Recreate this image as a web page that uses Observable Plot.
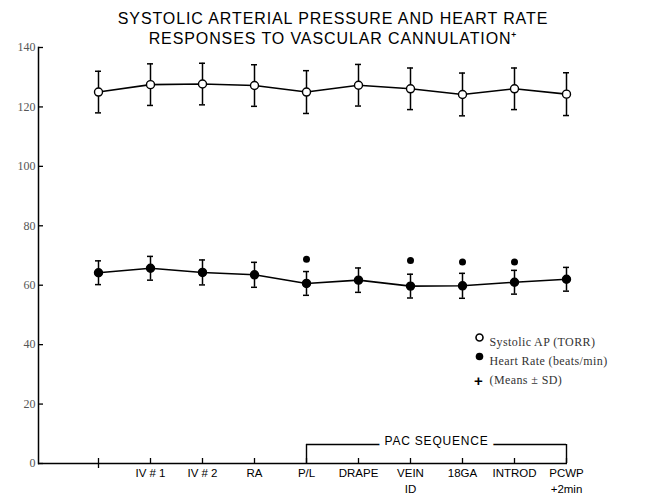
<!DOCTYPE html>
<html><head><meta charset="utf-8">
<script src="https://cdn.jsdelivr.net/npm/d3@7"></script>
<script src="https://cdn.jsdelivr.net/npm/@observablehq/plot@0.6"></script>
<style>body{margin:0;background:#fff} svg{display:block}</style>
</head><body><div id="chart"></div>
<script>
const categories = ["", "IV # 1", "IV # 2", "RA", "P/L", "DRAPE", "VEIN\nID", "18GA", "INTROD", "PCWP\n+2min"];
const systolicMean = [125, 127.5, 127.7, 127.2, 125, 127.3, 126.1, 124.2, 126.1, 124.3];
const systolicSD   = [7, 7, 7, 7, 7.2, 7, 7, 7.2, 7, 7.2];
const heartRateMean = [64.2, 65.7, 64.3, 63.5, 60.6, 61.7, 59.7, 59.8, 61, 62];
const heartRateSD   = [4, 4, 4.2, 4.2, 4, 4.1, 4, 4.2, 4, 4];
const significantCategories = ["P/L", "VEIN\nID", "18GA", "INTROD"];
const significantValues = [68.7, 68.3, 67.8, 67.8];
const yTicks = [0, 20, 40, 60, 80, 100, 120, 140];
const titleLines = ["SYSTOLIC ARTERIAL PRESSURE AND HEART RATE", "RESPONSES TO VASCULAR CANNULATION\u207A"];
const legendLabels = ["Systolic AP (TORR)", "Heart Rate (beats/min)", "(Means \u00B1 SD)"];
const bracketLabel = "PAC SEQUENCE";
const bracketStart = "P/L";
const bracketEnd = "PCWP\n+2min";

const sap = categories.map((c, i) => ({cat: c, mean: systolicMean[i], lo: systolicMean[i] - systolicSD[i], hi: systolicMean[i] + systolicSD[i]}));
const hr = categories.map((c, i) => ({cat: c, mean: heartRateMean[i], lo: heartRateMean[i] - heartRateSD[i], hi: heartRateMean[i] + heartRateSD[i]}));
const sig = significantCategories.map((c, i) => ({cat: c, v: significantValues[i]}));

function series(data, fill) {
  return [
    Plot.ruleX(data, {x: "cat", y1: "lo", y2: "hi", stroke: "#000", strokeWidth: 1.5}),
    Plot.ruleY(data, {x1: "cat", x2: "cat", y: "hi", insetLeft: -3, insetRight: -3, stroke: "#000", strokeWidth: 1.5}),
    Plot.ruleY(data, {x1: "cat", x2: "cat", y: "lo", insetLeft: -3, insetRight: -3, stroke: "#000", strokeWidth: 1.5}),
    Plot.line(data, {x: "cat", y: "mean", stroke: "#000", strokeWidth: 1.6}),
    Plot.dot(data, {x: "cat", y: "mean", r: 4, fill, stroke: "#000", strokeWidth: 1.4})
  ];
}

const legendFont = {fontFamily: "Liberation Serif", fontSize: 12, fill: "#333", textAnchor: "start", frameAnchor: "top-left", className: "legend"};

const chart = Plot.plot({
  width: 660, height: 503,
  marginTop: 47, marginBottom: 40, marginLeft: 38, marginRight: 93,
  x: {type: "point", domain: categories, range: [97, 567], padding: 0},
  y: {domain: [0, 140]},
  style: {fontFamily: "Liberation Sans", color: "#000", background: "#fff"},
  marks: [
    Plot.frame({anchor: "left", stroke: "#000", strokeWidth: 1.5}),
    Plot.ruleY([0], {stroke: "#000", strokeWidth: 1.5}),
    Plot.axisY(yTicks, {tickSize: -5, tickPadding: 8, fontFamily: "Liberation Serif", fontSize: 12, fill: "#555", label: null, strokeWidth: 1.3}),
    Plot.axisX({tickSize: -5, tickPadding: 7, fontSize: 11.5, label: null, lineHeight: 1.4, strokeWidth: 1.3}),
    Plot.axisX([categories[0]], {tickSize: 5, text: null, label: null, strokeWidth: 1.3}),
    // PAC bracket
    Plot.ruleX([bracketStart, bracketEnd], {x: d => d, y1: () => 0, y2: () => 0, insetBottom: 19, stroke: "#000", strokeWidth: 1.4}),
    Plot.ruleY([0], {x1: () => bracketStart, x2: () => bracketEnd, dy: -19, stroke: "#000", strokeWidth: 1.4}),
    Plot.text([bracketLabel], {x: () => categories[6], dx: 26, frameAnchor: "bottom", dy: -19, fontSize: 12, fill: "#000", stroke: "#fff", strokeWidth: 12, paintOrder: "stroke", textAnchor: "middle", className: "spaced"}),
    ...series(sap, "#fff"),
    ...series(hr, "#000"),
    Plot.dot(sig, {x: "cat", y: "v", r: 3.5, fill: "#000"}),
    // title
    Plot.text([titleLines.join("\n")], {frameAnchor: "top", dx: 30, dy: -20, lineAnchor: "middle", lineHeight: 1.25, fontSize: 16, fill: "#000", textAnchor: "middle", className: "title"}),
    // legend
    Plot.dot([0], {frameAnchor: "top-left", dx: 441, dy: 290, r: 3.5, fill: "#fff", stroke: "#000", strokeWidth: 1.6}),
    Plot.dot([0], {frameAnchor: "top-left", dx: 441, dy: 309, r: 3.8, fill: "#000"}),
    Plot.text(["+"], {frameAnchor: "top-left", dx: 435.5, dy: 328, fontSize: 15, fill: "#000", textAnchor: "start", fontWeight: "bold"}),
    Plot.text([legendLabels[0]], {...legendFont, dx: 451, dy: 290}),
    Plot.text([legendLabels[1]], {...legendFont, dx: 451, dy: 309}),
    Plot.text([legendLabels[2]], {...legendFont, dx: 451, dy: 328})
  ]
});
d3.select(chart).selectAll("g.title text").attr("letter-spacing", "0.9px");
d3.select(chart).selectAll("g.spaced text").attr("letter-spacing", "0.8px");
d3.select(chart).selectAll("g.legend text").attr("letter-spacing", "0.4px");
document.getElementById("chart").append(chart);
</script>
</body></html>
